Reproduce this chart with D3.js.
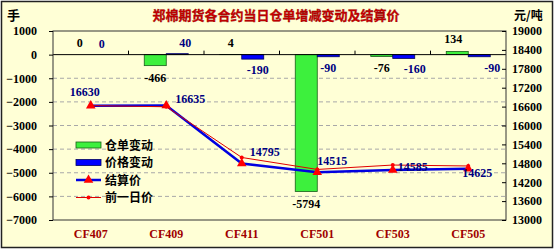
<!DOCTYPE html>
<html>
<head>
<meta charset="utf-8">
<script src="https://cdn.jsdelivr.net/npm/d3@7"></script>
<style>
  html, body { margin: 0; padding: 0; background: #fff; }
  #chart { width: 555px; height: 250px; }
</style>
</head>
<body>
<div id="chart"></div>
<script>
// ===== DATA =====
const contracts = ['CF407', 'CF409', 'CF411', 'CF501', 'CF503', 'CF505'];
const warrantChange = [0, -466, 4, -5794, -76, 134];      // 仓单变动 (手)
const priceChange = [0, 40, -190, -90, -160, -90];        // 价格变动 (元/吨)
const settlePrice = [16630, 16635, 14795, 14515, 14585, 14625]; // 结算价
const prevPrice = [16630, 16595, 14985, 14605, 14745, 14715];   // 前一日价
const leftTicks = [1000, 0, -1000, -2000, -3000, -4000, -5000, -6000, -7000];
const rightTicks = [19000, 18400, 17800, 17200, 16600, 16000, 15400, 14800, 14200, 13600, 13000];
const legendNames = ['仓单变动', '价格变动', '结算价', '前一日价'];

// ===== SETUP =====
const W = 555, H = 250;
const plot = { left: 53, right: 506, top: 31, bottom: 220 };
const serif = "'Liberation Serif', 'DejaVu Serif', serif";
const cjk = "'Noto Sans CJK SC', sans-serif";

const svg = d3.select('#chart').append('svg')
  .attr('width', W)
  .attr('height', H);

// background + outer frame
svg.append('rect')
  .attr('x', 1.5).attr('y', 1.5)
  .attr('width', 551).attr('height', 246)
  .attr('fill', '#ffffd6')
  .attr('stroke', '#222')
  .attr('stroke-width', 1.5);

const x = d3.scaleBand()
  .domain(contracts)
  .range([plot.left, plot.right])
  .padding(0);

const yL = d3.scaleLinear().domain([-7000, 1000]).range([plot.bottom, plot.top]);
const yR = d3.scaleLinear().domain([13000, 19000]).range([plot.bottom, plot.top]);

const cx = d => x(d) + x.bandwidth() / 2;
const barW = 22;

// dashed gridlines on the left axis values
svg.append('g')
  .selectAll('line')
  .data(leftTicks.filter(t => t < 0 && t > -7000))
  .join('line')
  .attr('x1', plot.left).attr('x2', plot.right)
  .attr('y1', d => yL(d)).attr('y2', d => yL(d))
  .attr('stroke', '#a8a8a8')
  .attr('stroke-dasharray', '4,3')
  .attr('stroke-width', 1);

// ===== BARS =====
const bars = svg.append('g');
bars.selectAll('.warrant')
  .data(contracts)
  .join('rect')
  .attr('class', 'warrant')
  .attr('x', d => cx(d) - barW)
  .attr('width', barW)
  .attr('y', (d, i) => Math.min(yL(0), yL(warrantChange[i])))
  .attr('height', (d, i) => Math.abs(yL(warrantChange[i]) - yL(0)))
  .attr('fill', '#3df03d')
  .attr('stroke', '#1a5c1a')
  .attr('stroke-width', 0.8);

bars.selectAll('.price')
  .data(contracts)
  .join('rect')
  .attr('class', 'price')
  .attr('x', d => cx(d))
  .attr('width', barW)
  .attr('y', (d, i) => Math.min(yL(0), yL(priceChange[i])))
  .attr('height', (d, i) => Math.abs(yL(priceChange[i]) - yL(0)))
  .attr('fill', '#0000ff')
  .attr('stroke', '#000060')
  .attr('stroke-width', 0.8);

// ===== AXES =====
// zero line with upward ticks at category boundaries
svg.append('line')
  .attr('x1', plot.left).attr('x2', plot.right)
  .attr('y1', yL(0)).attr('y2', yL(0))
  .attr('stroke', '#000').attr('stroke-width', 1);

svg.append('g')
  .selectAll('line')
  .data(contracts.slice(1))
  .join('line')
  .attr('x1', d => x(d)).attr('x2', d => x(d))
  .attr('y1', yL(0)).attr('y2', yL(0) - 4)
  .attr('stroke', '#000');

// plot frame
svg.append('rect')
  .attr('x', plot.left).attr('y', plot.top)
  .attr('width', plot.right - plot.left)
  .attr('height', plot.bottom - plot.top)
  .attr('fill', 'none')
  .attr('stroke', '#333')
  .attr('stroke-width', 1);

const leftAxis = d3.axisLeft(yL)
  .tickValues(leftTicks)
  .tickSize(4)
  .tickFormat(d3.format('d'));

svg.append('g')
  .attr('transform', `translate(${plot.left},0)`)
  .call(leftAxis)
  .call(g => g.select('.domain').remove())
  .call(g => g.selectAll('text')
    .attr('x', -16)
    .style('font-family', serif)
    .style('font-size', '12px')
    .style('font-weight', 'bold')
    .attr('fill', '#000'));

const rightAxis = d3.axisRight(yR)
  .tickValues(rightTicks)
  .tickSize(-4)
  .tickFormat(d3.format('d'));

svg.append('g')
  .attr('transform', `translate(${plot.right},0)`)
  .call(rightAxis)
  .call(g => g.select('.domain').remove())
  .call(g => g.selectAll('text')
    .attr('x', 6)
    .style('font-family', serif)
    .style('font-size', '12px')
    .style('font-weight', 'bold')
    .attr('fill', '#000'));

// category labels
svg.append('g')
  .selectAll('text')
  .data(contracts)
  .join('text')
  .attr('x', d => cx(d))
  .attr('y', 238)
  .attr('text-anchor', 'middle')
  .attr('font-family', serif)
  .attr('font-size', '12px')
  .attr('font-weight', 'bold')
  .attr('fill', '#a00000')
  .text(d => d);

// ===== LINES =====
const priceLine = d3.line()
  .x((d, i) => cx(contracts[i]))
  .y(d => yR(d));

const tri = d3.symbol().type(d3.symbolTriangle).size(40);

// settlement first, previous day drawn on top (series order)
svg.append('path')
  .datum(settlePrice)
  .attr('d', priceLine)
  .attr('fill', 'none')
  .attr('stroke', '#0000e0')
  .attr('stroke-width', 2.5);

svg.append('g')
  .selectAll('path')
  .data(settlePrice)
  .join('path')
  .attr('d', tri)
  .attr('transform', (d, i) => `translate(${cx(contracts[i])},${yR(d)})`)
  .attr('fill', '#ff0000');

svg.append('path')
  .datum(prevPrice)
  .attr('d', priceLine)
  .attr('fill', 'none')
  .attr('stroke', '#e00000')
  .attr('stroke-width', 1);

svg.append('g')
  .selectAll('circle')
  .data(prevPrice)
  .join('circle')
  .attr('cx', (d, i) => cx(contracts[i]))
  .attr('cy', d => yR(d))
  .attr('r', 2)
  .attr('fill', '#ff0000');

// ===== DATA LABELS =====
const labelFont = g => g
  .attr('font-family', serif)
  .attr('font-size', '12px')
  .attr('font-weight', 'bold')
  .attr('text-anchor', 'middle');

// nudges so labels don't collide, as in the original
const warrantDx = [0, 0, 0, 0, 0, -4];
const priceDx = [0, 8, 5, 0, 11, 13];

svg.append('g').call(labelFont)
  .selectAll('text')
  .data(warrantChange)
  .join('text')
  .attr('x', (d, i) => cx(contracts[i]) - barW / 2 + warrantDx[i])
  .attr('y', d => d >= 0 ? yL(d) - 8 : yL(d) + 16)
  .attr('fill', '#000')
  .text(d => d);

svg.append('g').call(labelFont)
  .selectAll('text')
  .data(priceChange)
  .join('text')
  .attr('x', (d, i) => cx(contracts[i]) + barW / 2 + priceDx[i])
  .attr('y', d => d >= 0 ? yL(d) - 7 : yL(d) + 15)
  .attr('fill', '#000080')
  .text(d => d);

const settleOffsets = [[-6, -10], [24, -2], [23, -7], [15, -7], [20, 1], [9, 8]];
svg.append('g').call(labelFont)
  .selectAll('text')
  .data(settlePrice)
  .join('text')
  .attr('x', (d, i) => cx(contracts[i]) + settleOffsets[i][0])
  .attr('y', (d, i) => yR(d) + settleOffsets[i][1])
  .attr('fill', '#000080')
  .text(d => d);

// ===== TITLE & UNITS =====
svg.append('text')
  .attr('x', 276)
  .attr('y', 20)
  .attr('text-anchor', 'middle')
  .attr('font-family', cjk)
  .attr('font-size', '13px')
  .attr('font-weight', 'bold')
  .attr('fill', '#d00000')
  .attr('stroke', '#800000')
  .attr('stroke-width', 0.3)
  .text('郑棉期货各合约当日仓单增减变动及结算价');

svg.append('text')
  .attr('x', 7).attr('y', 20)
  .attr('font-family', cjk)
  .attr('font-size', '13px')
  .attr('font-weight', 'bold')
  .attr('fill', '#000')
  .text('手');

svg.append('text')
  .attr('x', 514).attr('y', 20)
  .attr('font-family', cjk)
  .attr('font-size', '12px')
  .attr('font-weight', 'bold')
  .attr('fill', '#000')
  .text('元/吨');

// ===== LEGEND =====
const legend = svg.append('g').attr('transform', 'translate(76,145)');
const rowH = 17.5;

legendNames.forEach((name, i) => {
  const row = legend.append('g').attr('transform', `translate(0,${i * rowH})`);
  if (i === 0 || i === 1) {
    row.append('rect')
      .attr('x', 0).attr('y', -3)
      .attr('width', 25).attr('height', 6)
      .attr('fill', i === 0 ? '#3df03d' : '#0000ff')
      .attr('stroke', i === 0 ? '#1a5c1a' : '#000060')
      .attr('stroke-width', 0.8);
  } else if (i === 2) {
    row.append('line')
      .attr('x1', 0).attr('x2', 25).attr('y1', 0).attr('y2', 0)
      .attr('stroke', '#0000e0').attr('stroke-width', 2.5);
    row.append('path')
      .attr('d', tri)
      .attr('transform', 'translate(12.5,0)')
      .attr('fill', '#ff0000');
  } else {
    row.append('line')
      .attr('x1', 0).attr('x2', 25).attr('y1', 0).attr('y2', 0)
      .attr('stroke', '#e00000').attr('stroke-width', 1);
    row.append('circle')
      .attr('cx', 12.5).attr('cy', 0).attr('r', 2)
      .attr('fill', '#ff0000');
  }
  row.append('text')
    .attr('x', 29).attr('y', 4.5)
    .attr('font-family', cjk)
    .attr('font-size', '12px')
    .attr('font-weight', 'bold')
    .attr('fill', '#000')
    .text(name);
});
</script>
</body>
</html>
